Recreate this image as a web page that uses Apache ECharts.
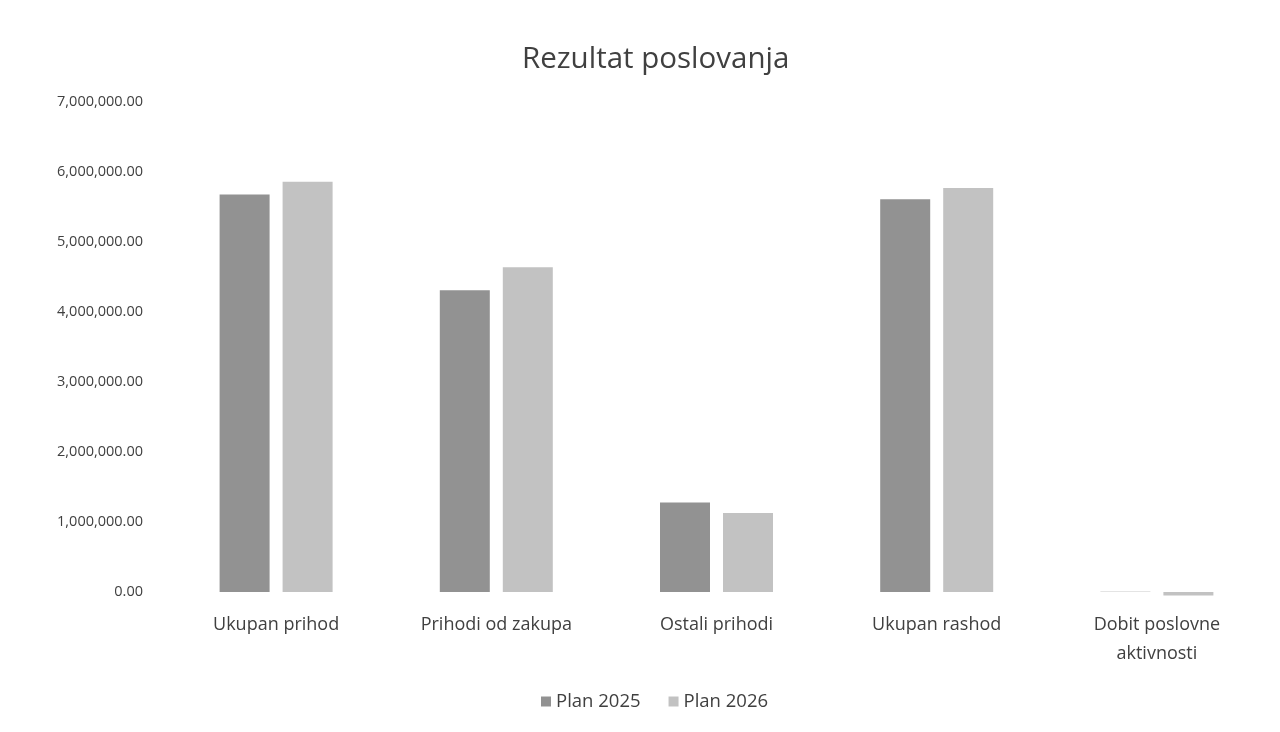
<!DOCTYPE html>
<html><head><meta charset="utf-8">
<script src="https://cdn.jsdelivr.net/npm/echarts@6/dist/echarts.min.js"></script>
<style>html,body{margin:0;padding:0;background:#fff}#c{width:1280px;height:732px}</style>
</head><body><div id="c"></div>
<script>
const categories = ['Ukupan prihod', 'Prihodi od zakupa', 'Ostali prihodi', 'Ukupan rashod', 'Dobit poslovne\naktivnosti'];
const plan2025 = [5680000, 4310000, 1280000, 5610000, 5000];
const plan2026 = [5860000, 4640000, 1130000, 5770000, -50000];
const seriesNames = ['Plan 2025', 'Plan 2026'];

const chart = echarts.init(document.getElementById('c'));
const font = 'Open Sans';
chart.setOption({
  animation: false,
  title: { text: 'Rezultat poslovanja', left: 517, top: 40,
    textStyle: { fontFamily: font, fontSize: 29.5, fontWeight: 'normal', color: '#404040' } },
  legend: { bottom: 16, left: 536, itemWidth: 10, itemHeight: 10, itemGap: 28,
    icon: 'rect', textStyle: { fontFamily: font, fontSize: 18.5, color: '#404040' },
    data: seriesNames },
  grid: { left: 166, right: 13, top: 102, bottom: 140, containLabel: false },
  xAxis: { type: 'category', data: categories,
    axisLine: { show: false }, axisTick: { show: false },
    axisLabel: { fontFamily: font, fontSize: 18, color: '#404040', margin: 18, lineHeight: 29, interval: 0 } },
  yAxis: { type: 'value', min: 0, max: 7000000, interval: 1000000,
    splitLine: { show: false }, axisLine: { show: false }, axisTick: { show: false },
    axisLabel: { fontFamily: font, fontSize: 14.5, color: '#404040', margin: 23,
      formatter: v => v.toLocaleString('en-US', { minimumFractionDigits: 2, maximumFractionDigits: 2 }) } },
  series: [
    { name: seriesNames[0], type: 'bar', data: plan2025, barWidth: 50, barGap: '26%', clip: false,
      itemStyle: { color: '#929292' } },
    { name: seriesNames[1], type: 'bar', data: plan2026, barWidth: 50, clip: false,
      itemStyle: { color: '#c2c2c2' } }
  ]
});
</script></body></html>
